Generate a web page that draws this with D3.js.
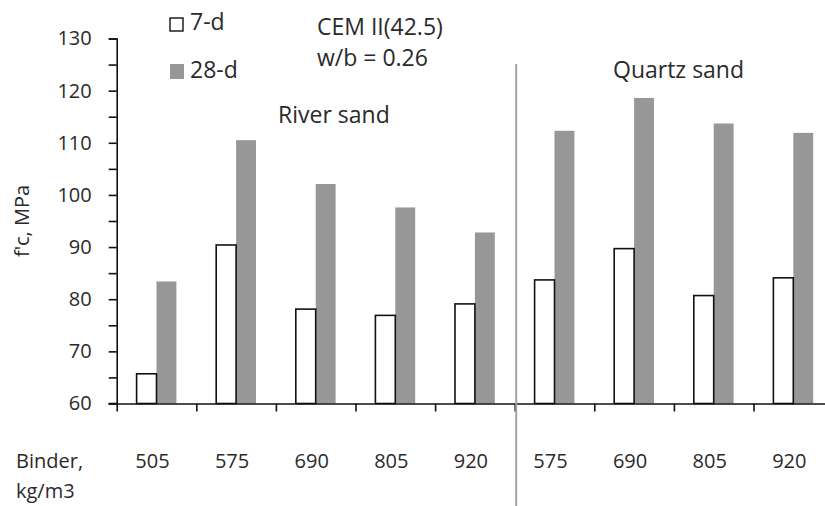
<!DOCTYPE html>
<html>
<head>
<meta charset="utf-8">
<script src="https://cdn.jsdelivr.net/npm/d3@7"></script>
<style>
  html, body { margin: 0; padding: 0; background: #fff; }
  svg { display: block; font-family: "Open Sans", "Liberation Sans", sans-serif; }
</style>
</head>
<body>
<svg id="chart" width="825" height="506"></svg>
<script>
// Compressive strength by binder content, two sand types
const binderLabels = ["505", "575", "690", "805", "920", "575", "690", "805", "920"];
const sandGroups   = ["River sand", "River sand", "River sand", "River sand", "River sand",
                      "Quartz sand", "Quartz sand", "Quartz sand", "Quartz sand"];
const strength7d   = [65.7, 90.4, 78.1, 76.9, 79.1, 83.7, 89.7, 80.7, 84.1];
const strength28d  = [83.4, 110.5, 102.1, 97.6, 92.8, 112.3, 118.6, 113.7, 111.9];
const seriesNames  = ["7-d", "28-d"];
const yTicks       = [60, 65, 70, 75, 80, 85, 90, 95, 100, 105, 110, 115, 120, 125, 130];

const svg = d3.select("#chart");
const ink = "#2a2a2a";

const left = 116.7, plotTop = 38.5, plotBottom = 403.5;
const bandStep = 79.6;
const plotRight = left + bandStep * binderLabels.length;

const idx = binderLabels.map((_, i) => i);

const x = d3.scaleBand().domain(idx).range([left, plotRight]).padding(0);
const xEdge = d3.scaleLinear().domain([0, binderLabels.length]).range([left, plotRight]);
const xSeries = d3.scaleBand().domain(seriesNames).range([0, x.bandwidth()])
  .paddingInner(0).paddingOuter(1);
const y = d3.scaleLinear().domain([60, 130]).range([plotBottom, plotTop]);

const rows = idx.map(i => ({ i, label: binderLabels[i], group: sandGroups[i],
  values: [strength7d[i], strength28d[i]] }));

// Bars
const g = svg.append("g");
rows.forEach(r => {
  // 28-d: solid grey
  g.append("rect")
    .attr("x", x(r.i) + xSeries("28-d"))
    .attr("y", y(r.values[1]))
    .attr("width", xSeries.bandwidth())
    .attr("height", y(60) - y(r.values[1]))
    .attr("fill", "#979797");
  // 7-d: white with black outline
  g.append("rect")
    .attr("x", x(r.i) + xSeries("7-d"))
    .attr("y", y(r.values[0]))
    .attr("width", xSeries.bandwidth())
    .attr("height", y(60) - y(r.values[0]))
    .attr("fill", "#fff")
    .attr("stroke", "#111")
    .attr("stroke-width", 1.6);
});

// Y axis
const yAxis = d3.axisLeft(y).tickValues(yTicks).tickSize(8).tickPadding(17)
  .tickFormat(d => d % 10 === 0 ? d : "");
const yg = svg.append("g").attr("transform", `translate(${left},0)`).call(yAxis);
yg.select(".domain").attr("stroke", "#111").attr("stroke-width", 1.6);
yg.selectAll(".tick line").attr("stroke", "#111").attr("stroke-width", 1.6);
yg.selectAll(".tick text").attr("font-size", 20).attr("fill", ink)
  .attr("font-family", "Open Sans, sans-serif");

// X axis: ticks at category boundaries
const xAxis = d3.axisBottom(xEdge).tickValues(d3.range(binderLabels.length))
  .tickSize(8).tickSizeOuter(0).tickFormat("");
const xg = svg.append("g").attr("transform", `translate(0,${plotBottom})`).call(xAxis);
xg.select(".domain").attr("stroke", "#111").attr("stroke-width", 1.6);
xg.selectAll(".tick line").attr("stroke", "#111").attr("stroke-width", 1.6);
// extend the baseline left to meet the 60 tick
svg.append("line").attr("x1", left - 8).attr("x2", left)
  .attr("y1", plotBottom).attr("y2", plotBottom)
  .attr("stroke", "#111").attr("stroke-width", 1.6);

// Category labels
svg.append("g").selectAll("text").data(rows).join("text")
  .attr("x", d => x(d.i) + x.bandwidth() / 2 - 4)
  .attr("y", 468)
  .attr("text-anchor", "middle")
  .attr("font-size", 20)
  .attr("fill", ink)
  .text(d => d.label);

svg.append("text").attr("x", 16).attr("y", 468).attr("font-size", 20).attr("fill", ink).text("Binder,");
svg.append("text").attr("x", 16).attr("y", 498).attr("font-size", 20).attr("fill", ink).text("kg/m3");

// Y axis title
svg.append("text")
  .attr("transform", "translate(29,221) rotate(-90)")
  .attr("text-anchor", "middle")
  .attr("font-size", 20)
  .attr("fill", ink)
  .text("f'c, MPa");

// Divider between sand types
const firstQuartz = sandGroups.indexOf("Quartz sand");
svg.append("line")
  .attr("x1", xEdge(firstQuartz) + 1.5).attr("x2", xEdge(firstQuartz) + 1.5)
  .attr("y1", 64).attr("y2", 506)
  .attr("stroke", "#a3a3a3").attr("stroke-width", 2);

// Group labels
svg.append("text").attr("x", 278).attr("y", 123).attr("font-size", 23).attr("fill", ink).text("River sand");
svg.append("text").attr("x", 613).attr("y", 78).attr("font-size", 23).attr("fill", ink).text("Quartz sand");

// Mix description
svg.append("text").attr("x", 317).attr("y", 35).attr("font-size", 23).attr("fill", ink).text("CEM II(42.5)");
svg.append("text").attr("x", 317).attr("y", 66).attr("font-size", 23).attr("fill", ink).text("w/b = 0.26");

// Legend
const legend = svg.append("g");
legend.append("rect").attr("x", 170).attr("y", 18).attr("width", 13).attr("height", 13)
  .attr("fill", "#fff").attr("stroke", "#111").attr("stroke-width", 1.4);
legend.append("text").attr("x", 190).attr("y", 30).attr("font-size", 23).attr("fill", ink).text(seriesNames[0]);
legend.append("rect").attr("x", 170).attr("y", 64).attr("width", 14).attr("height", 15)
  .attr("fill", "#979797");
legend.append("text").attr("x", 190).attr("y", 78).attr("font-size", 23).attr("fill", ink).text(seriesNames[1]);
</script>
</body>
</html>
